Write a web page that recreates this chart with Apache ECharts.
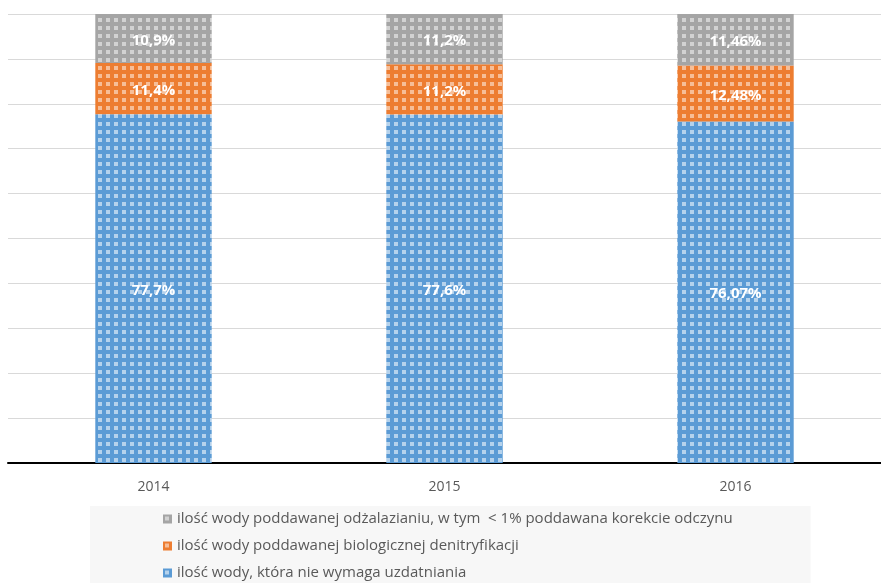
<!DOCTYPE html>
<html>
<head>
<meta charset="utf-8">
<script src="https://cdn.jsdelivr.net/npm/echarts@6/dist/echarts.min.js"></script>
<style>
  html, body { margin: 0; padding: 0; background: #fff; }
  #chart { width: 881px; height: 583px; }
</style>
</head>
<body>
<div id="chart"></div>
<script>
// Years on the category axis
const years = ['2014', '2015', '2016'];

// Share of water volume (%) by treatment type
const noTreatment = [77.7, 77.6, 76.07];
const denitrification = [11.4, 11.2, 12.48];
const deironing = [10.9, 11.2, 11.46];

const seriesNames = [
  'ilość wody, która nie wymaga uzdatniania',
  'ilość wody poddawanej biologicznej denitryfikacji',
  'ilość wody poddawanej odżalazianiu, w tym  < 1% poddawana korekcie odczynu'
];

// Dotted fill: coloured tile with a small light square
function dotPattern(base, dot) {
  const c = document.createElement('canvas');
  c.width = 8; c.height = 8;
  const ctx = c.getContext('2d');
  ctx.fillStyle = base;
  ctx.fillRect(0, 0, 8, 8);
  ctx.fillStyle = dot;
  ctx.fillRect(2, 2, 4, 4);
  return { image: c, repeat: 'repeat' };
}

const blueFill = dotPattern('#5b9bd5', 'rgba(255,255,255,0.55)');
const orangeFill = dotPattern('#ed7d31', 'rgba(255,255,255,0.5)');
const grayFill = dotPattern('#a5a5a5', 'rgba(255,255,255,0.5)');

const fmt = p => String(p.value).replace('.', ',') + '%';

const labelStyle = {
  show: true,
  position: 'inside',
  offset: [0, 2],
  color: '#ffffff',
  fontFamily: 'Open Sans',
  fontWeight: 'bold',
  fontSize: 15,
  formatter: fmt
};

function barSeries(name, data, fill) {
  return {
    name: name,
    type: 'bar',
    stack: 'total',
    barWidth: '40%',
    data: data,
    itemStyle: { color: fill },
    label: labelStyle,
    emphasis: { disabled: true }
  };
}

const chart = echarts.init(document.getElementById('chart'), null, { renderer: 'canvas' });
chart.setOption({
  animation: false,
  backgroundColor: '#ffffff',
  grid: { left: 8, top: 14, width: 880, height: 449 },
  xAxis: {
    type: 'category',
    data: years,
    axisTick: { show: false },
    axisLine: { lineStyle: { color: '#000000', width: 2 } },
    axisLabel: { color: '#595959', fontFamily: 'Open Sans', fontSize: 14, margin: 17 }
  },
  yAxis: {
    type: 'value',
    min: 0,
    max: 100,
    interval: 10,
    axisLabel: { show: false },
    axisLine: { show: false },
    axisTick: { show: false },
    splitLine: { lineStyle: { color: '#d9d9d9', width: 1 } }
  },
  legend: {
    orient: 'vertical',
    left: 90,
    top: 506,
    padding: [5, 78, 2, 73],
    backgroundColor: '#f7f7f7',
    itemWidth: 9,
    itemHeight: 9,
    itemGap: 11,
    icon: 'rect',
    data: [seriesNames[2], seriesNames[1], seriesNames[0]],
    textStyle: { color: '#595959', fontFamily: 'Open Sans', fontSize: 15, lineHeight: 16 }
  },
  series: [
    barSeries(seriesNames[0], noTreatment, blueFill),
    barSeries(seriesNames[1], denitrification, orangeFill),
    barSeries(seriesNames[2], deironing, grayFill)
  ]
});
</script>
</body>
</html>
